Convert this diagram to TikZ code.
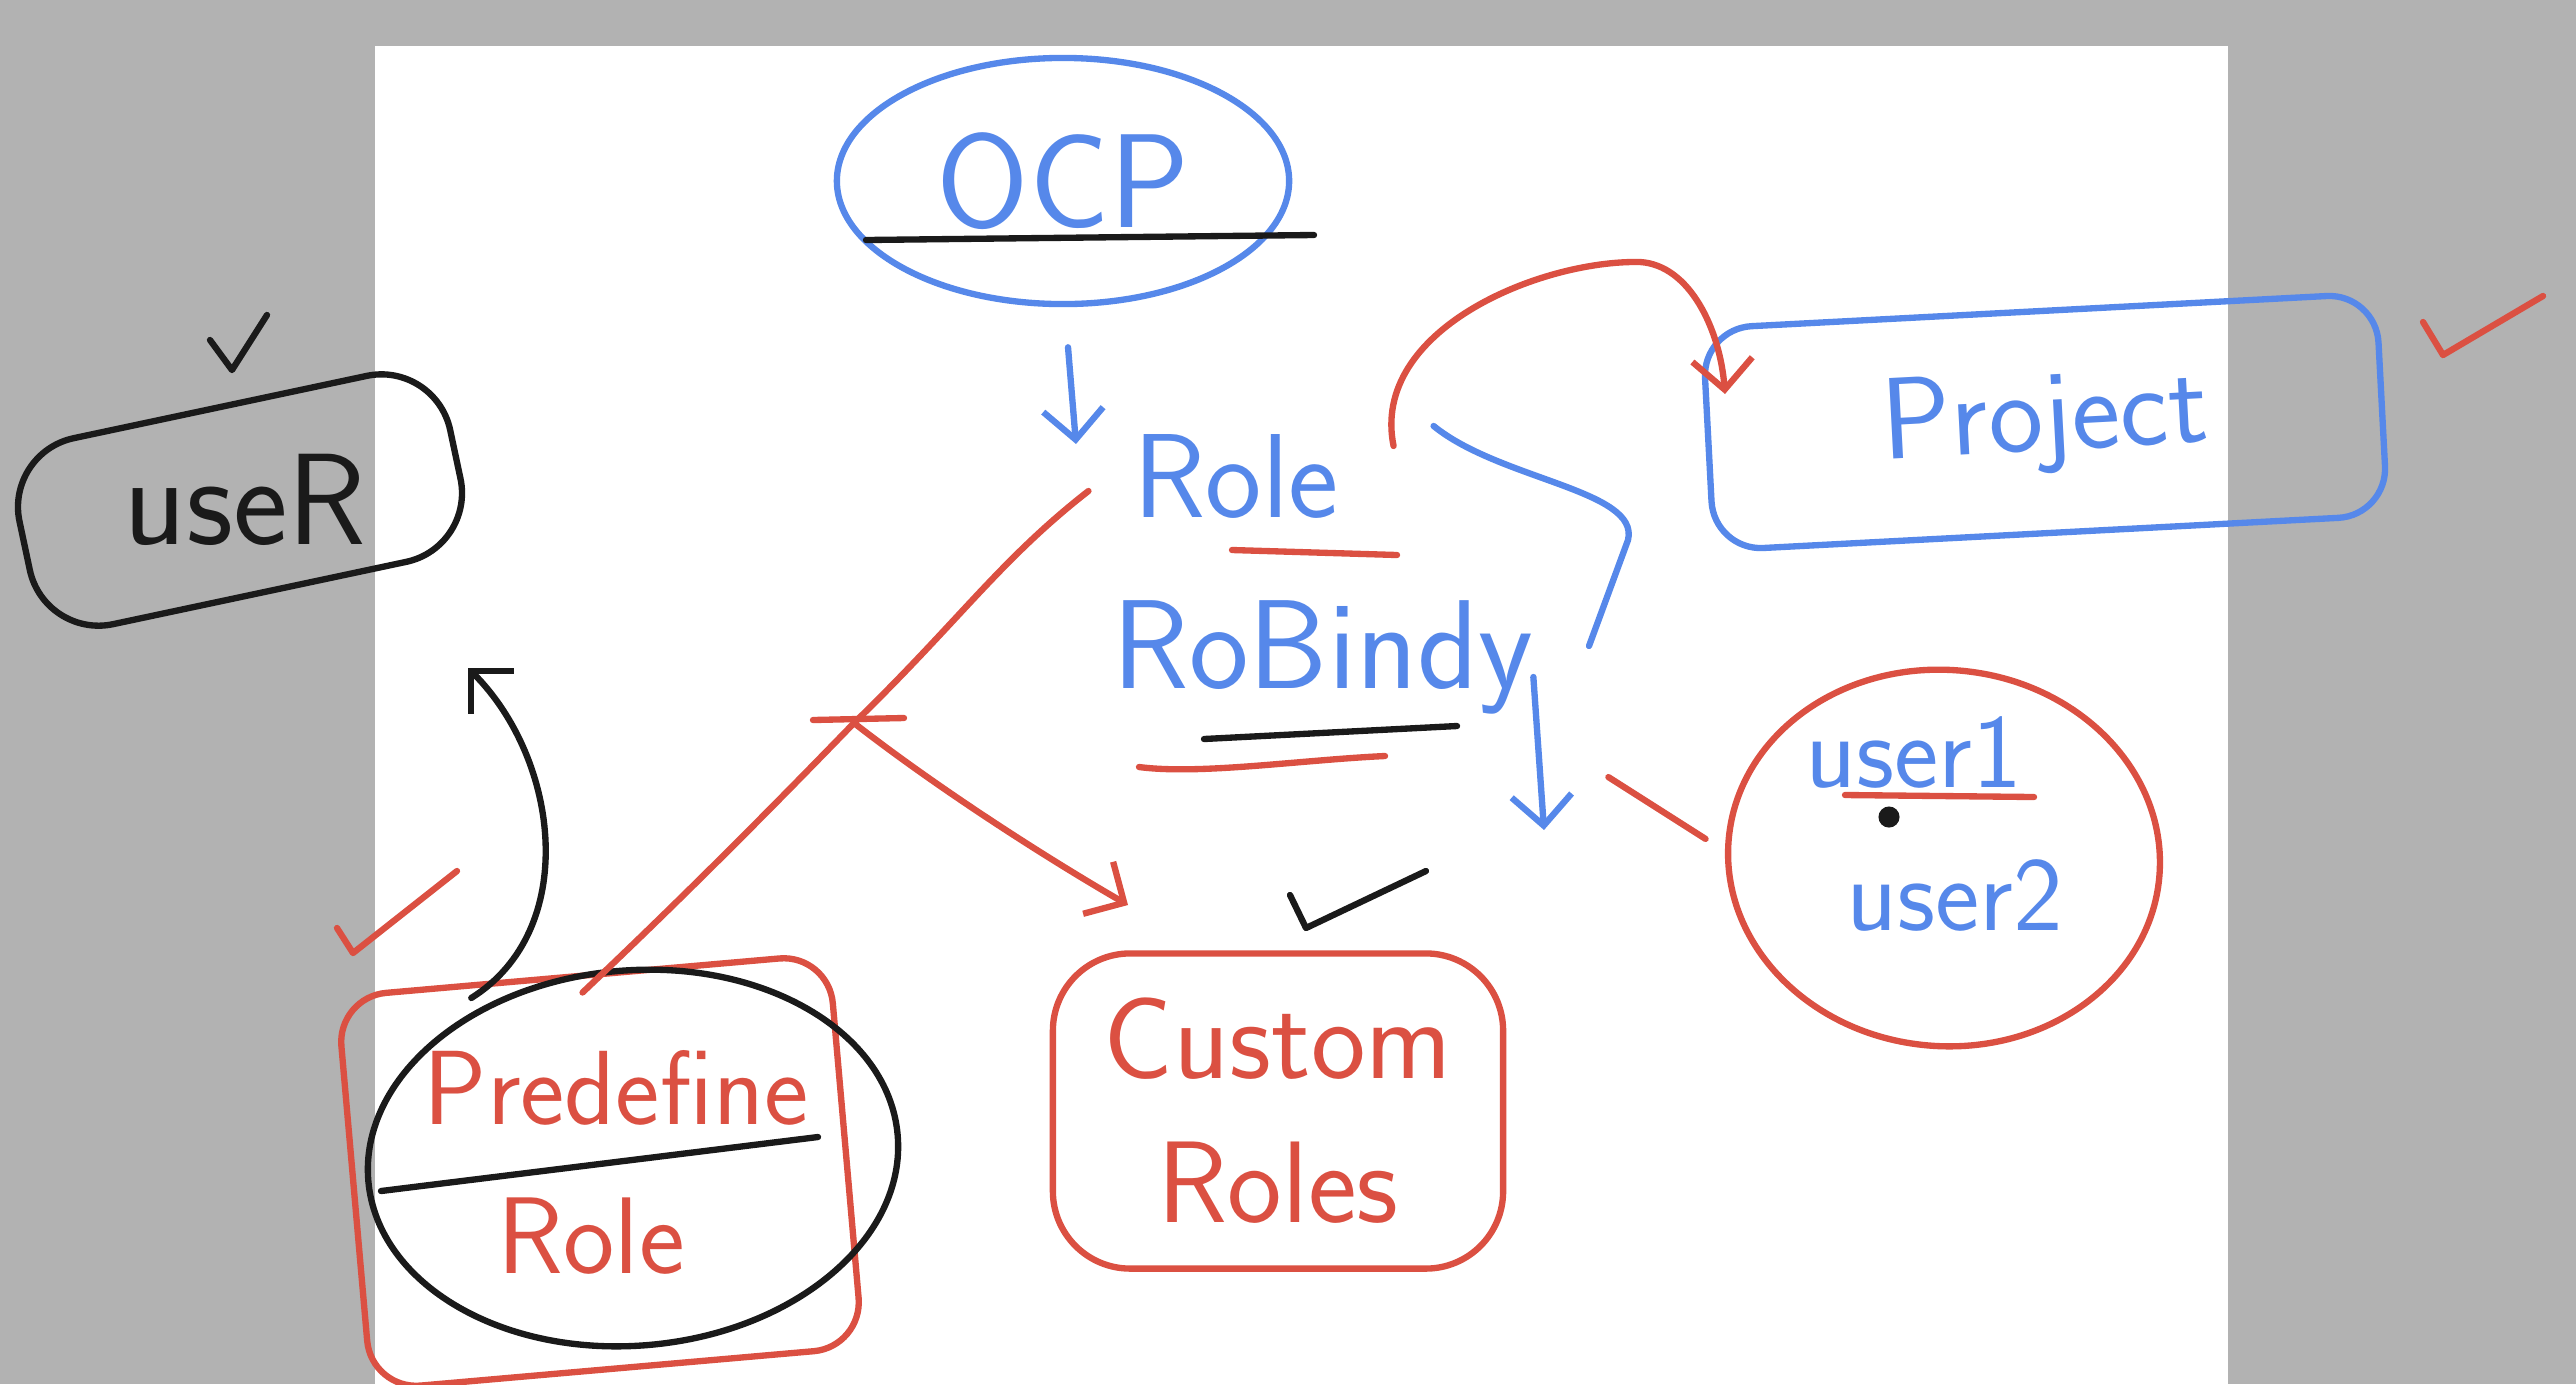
\documentclass[tikz,border=0pt]{standalone}
\usepackage{tikz}
\usetikzlibrary{positioning,arrows.meta,shapes.geometric}
\definecolor{penblue}{RGB}{86,136,234}
\definecolor{penred}{RGB}{219,80,66}
\definecolor{penblack}{RGB}{26,26,26}
\definecolor{padgray}{RGB}{178,178,178}

\begin{document}
\begin{tikzpicture}[x=0.01cm,y=-0.01cm,line width=1.8pt,line cap=round,line join=round,
   hand/.style={font=\sffamily\fontsize{#1}{#1}\selectfont},
   hand/.default=34,
   tip/.style={-{Straight Barb[length=0.3cm,width=0.6cm]}}]

  \useasboundingbox (0,0) rectangle (2576,1384);
  \fill[padgray] (0,0) rectangle (2576,1384);
  \fill[white] (375,46) rectangle (2228,1384);

  % boxes and words
  \node[ellipse,draw=penblue,text=penblue,hand=38,minimum width=4.52cm,minimum height=2.46cm] (ocp) at (1063,181) {OCP};
  \node[hand=34,text=penblue] (role) at (1236,476) {Role};
  \node[hand=36,text=penblue] (robind) at (1323,657) {RoBindy};
  \node[draw=penblue,text=penblue,hand=33,rounded corners=14pt,minimum width=6.74cm,minimum height=2.22cm,rotate=3] (project) at (2045,422) {Project};
  \node[ellipse,draw=penred,minimum width=4.32cm,minimum height=3.76cm,rotate=-5] (users) at (1944,858) {};
  \node[hand=30,text=penblue] (user1) at (1914,752) {user1};
  \node[hand=30,text=penblue] (user2) at (1955,895) {user2};
  \node[draw=penblack,rounded corners=20pt,minimum width=4.4cm,minimum height=1.9cm,rotate=12] (user) at (240,500) {};
  \node[hand=37,text=penblack] (user text) at (245,500) {useR};
  \node[draw=penred,rounded corners=14pt,minimum width=4.93cm,minimum height=3.94cm,rotate=5] (predef box) at (600,1172) {};
  \node[ellipse,draw=penblack,minimum width=5.31cm,minimum height=3.75cm,rotate=5] (predef) at (633,1158) {};
  \node[hand=30,text=penred] (predef top) at (616,1088) {Predefine};
  \node[hand=31,text=penred] (predef bottom) at (591,1236) {Role};
  \node[draw=penred,text=penred,hand=33,align=center,rounded corners=22pt,minimum width=4.5cm,minimum height=3.15cm] (custom) at (1278,1111) {Custom\\[8pt]Roles};

  % underlines
  \draw[penblack] (866,240) -- (1314,235);
  \draw[penred] (1232,550) -- (1397,555);
  \draw[penblack] (1204,739) -- (1457,726);
  \draw[penred] (1139,767) .. controls (1200,775) and (1300,760) .. (1385,756);
  \draw[penred] (1845,795) -- (2034,797);
  \fill[penblack] (1889,817) circle (3pt);
  \draw[penblack] (381,1191) -- (818,1137);

  % connectors
  \coordinate (role hook) at (1076,444);
  \coordinate (project hook) at (1725,394);
  \coordinate (split) at (854,723);
  \coordinate (custom hook) at (1128,905);
  \coordinate (user tip) at (468,668);
  \coordinate (down tip) at (1544,830);
  \draw[penblue,tip] ([xshift=0.05cm,yshift=-0.4cm]ocp.south) -- (role hook);
  \draw[penred,tip] ([xshift=0.4cm,yshift=0.3cm]role.east) .. controls (1370,330) and (1540,260) .. (1640,262)
    .. controls (1690,265) and (1720,330) .. (project hook);
  \draw[penblue] ([xshift=0.8cm,yshift=0.5cm]role.east) .. controls (1500,480) and (1640,490) .. (1628,540) -- (1589,646);
  \draw[penblue,tip] ([xshift=-0.15cm,yshift=-0.2cm]robind.east) -- (down tip);
  \draw[penred] ([xshift=0.6cm,yshift=-1.2cm]robind.east) -- ([xshift=-0.2cm]users.west);
  \draw[penred] ([xshift=-0.3cm,yshift=-0.15cm]role.west) .. controls (1000,560) and (960,620) .. (split);
  \draw[penred] (split) .. controls (760,820) and (680,900) .. ([yshift=-0.2cm]predef box.north);
  \draw[penred] (813,720) -- (904,718);
  \draw[penred,tip] (split) .. controls (940,790) and (1050,860) .. (custom hook);
  \draw[penblack,tip] ([xshift=-1.45cm,yshift=-0.3cm]predef.north) .. controls (580,930) and (560,760) .. (user tip);

  % ticks
  \foreach \ax/\ay/\bx/\by/\cx/\cy/\col in {210/340/232/370/267/315/penblack,
      2423/322/2443/355/2543/296/penred, 337/928/353/953/457/871/penred,
      1290/895/1306/928/1426/871/penblack}
    \draw[\col] (\ax,\ay) -- (\bx,\by) -- (\cx,\cy);
\end{tikzpicture}
\end{document}
